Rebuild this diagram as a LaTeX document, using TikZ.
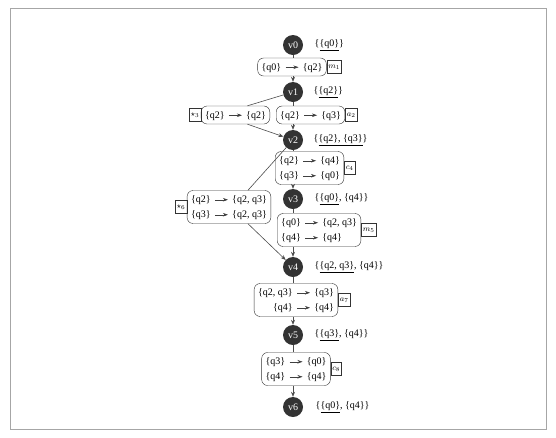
\documentclass[tikz,border=0pt]{standalone}
\usepackage{fontspec}
\setmainfont{Liberation Serif}
\usetikzlibrary{positioning,arrows.meta}
\renewcommand{\arraystretch}{1.25}
\newcommand{\fto}{\tikz[baseline=-0.6ex]\draw[black!75,-{Stealth[length=5pt,width=3.5pt,inset=1.5pt]},line width=0.5pt] (0,0) -- (13pt,0);}
\newcommand{\st}[1]{\{#1\}}
\newcommand{\tr}[1]{\begin{tabular}{@{}r@{\hspace{4pt}}c@{\hspace{4pt}}l@{}}#1\end{tabular}}

\begin{document}
\begin{tikzpicture}[x=1pt,y=-1pt,
  vtx/.style={circle, fill=black!80, text=white, minimum size=20pt, inner sep=0pt},
  trans/.style={draw=black!80, rounded corners=6pt, inner xsep=4pt, inner ysep=1.5pt},
  tag/.style={draw=black!80, inner sep=1.5pt, font=\footnotesize, minimum height=13pt},
  ln/.style={draw=black!70, line width=0.6pt},
  arr/.style={ln, -{Stealth[length=5pt,width=4pt]}},
]
  \useasboundingbox (0,0) rectangle (556,437);
  \draw[black!35] (10,8) rectangle (546,429);

  \node[vtx] (v0) at (293,45) {v0};
  \node[vtx] (v1) at (293,92) {v1};
  \node[vtx] (v2) at (293,140) {v2};
  \node[vtx] (v3) at (293,199) {v3};
  \node[vtx] (v4) at (293,267) {v4};
  \node[vtx] (v5) at (293,335) {v5};
  \node[vtx] (v6) at (293,407) {v6};

  \node[right=8pt of v0] (s0) {\{\underline{\st{q0}}\}};
  \node[right=7pt of v1] (s1) {\{\underline{\st{q2}}\}};
  \node[right=7pt of v2] (s2) {\{\underline{\st{q2}, \st{q3}}\}};
  \node[right=8pt of v3] (s3) {\{\underline{\st{q0}}, \st{q4}\}};
  \node[right=8pt of v4] (s4) {\{\underline{\st{q2, q3}}, \st{q4}\}};
  \node[right=8pt of v5] (s5) {\{\underline{\st{q3}}, \st{q4}\}};
  \node[right=9pt of v6] (s6) {\{\underline{\st{q0}}, \st{q4}\}};

  \node[trans] (b1) at (292,67) {\tr{\st{q0} & \fto & \st{q2}}};
  \node[trans, anchor=west] (b2) at (276,115) {\tr{\st{q2} & \fto & \st{q3}}};
  \node[trans, anchor=east] (b3) at (270,115) {\tr{\st{q2} & \fto & \st{q2}}};
  \node[trans, anchor=west] (b4) at (275,168) {\tr{\st{q2} & \fto & \st{q4}\\ \st{q3} & \fto & \st{q0}}};
  \node[trans, anchor=west] (b5) at (277,230) {\tr{\st{q0} & \fto & \st{q2, q3}\\ \st{q4} & \fto & \st{q4}}};
  \node[trans, anchor=east] (b6) at (271,207) {\tr{\st{q2} & \fto & \st{q2, q3}\\ \st{q3} & \fto & \st{q2, q3}}};
  \node[trans] (b7) at (296,300) {\tr{\st{q2, q3} & \fto & \st{q3}\\ \st{q4} & \fto & \st{q4}}};
  \node[trans] (b8) at (296,369) {\tr{\st{q3} & \fto & \st{q0}\\ \st{q4} & \fto & \st{q4}}};

  \node[tag, right=0pt of b1] (t1) {$m_1$};
  \node[tag, right=0pt of b2] (t2) {$a_2$};
  \node[tag, left=0pt of b3] (t3) {$\star_3$};
  \node[tag, right=0pt of b4] (t4) {$c_4$};
  \node[tag, right=0pt of b5] (t5) {$m_5$};
  \node[tag, left=0pt of b6] (t6) {$\star_6$};
  \node[tag, right=0pt of b7] (t7) {$a_7$};
  \node[tag, right=0pt of b8] (t8) {$c_8$};

  \draw[ln] (v0) -- (b1.north -| v0);
  \draw[arr] (b1.south -| v1) -- (v1);
  \draw[ln] (v1) -- (b2.north -| v1);
  \draw[arr] (b2.south -| v2) -- (v2);
  \draw[ln] (v1) -- ([xshift=12pt]b3.north);
  \draw[arr] ([xshift=12pt]b3.south) -- (v2);
  \draw[ln] (v2) -- (b4.north -| v2);
  \draw[arr] (b4.south -| v3) -- (v3);
  \draw[ln] (v2) -- ([xshift=19pt]b6.north);
  \draw[arr] ([xshift=19pt]b6.south) -- (v4);
  \draw[ln] (v3) -- (b5.north -| v3);
  \draw[arr] (b5.south -| v4) -- (v4);
  \draw[ln] (v4) -- (b7.north -| v4);
  \draw[arr] (b7.south -| v5) -- (v5);
  \draw[ln] (v5) -- (b8.north -| v5);
  \draw[arr] (b8.south -| v6) -- (v6);
\end{tikzpicture}
\end{document}
